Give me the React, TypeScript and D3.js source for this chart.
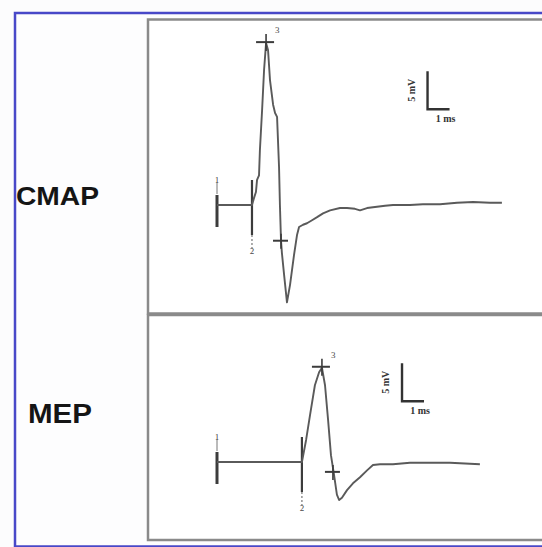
import React from "react";
import * as d3 from "d3";

// Evoked response traces: time in ms (marker 1 = 0), amplitude in mV
const cmapTime = [0, 1.59, 1.68, 1.77, 1.82, 1.91, 1.95, 2.05, 2.14, 2.23, 2.32, 2.41, 2.55, 2.64, 2.73, 2.82, 2.86, 2.91, 2.95, 3.05, 3.18, 3.32, 3.5, 3.64, 3.73, 3.91, 4.09, 4.32, 4.55, 4.82, 5.14, 5.59, 5.91, 6.27, 6.5, 6.82, 7.09, 7.64, 8.0, 8.77, 9.36, 10.14, 10.91, 11.64, 12.41, 12.95];
const cmapVolt = [0, 0, 0.9, 1.7, 3.3, 3.9, 7.2, 12.5, 17.8, 21.3, 20.4, 16.4, 13.2, 12.1, 11.6, 5.0, 0, -4.7, -6.3, -9.2, -12.8, -10.5, -6.6, -3.9, -2.9, -2.6, -2.4, -2.0, -1.6, -1.1, -0.7, -0.4, -0.4, -0.5, -0.7, -0.4, -0.3, -0.1, 0, 0, 0.1, 0.1, 0.3, 0.4, 0.3, 0.3];

const mepTime = [0, 3.86, 4.05, 4.23, 4.45, 4.64, 4.77, 4.91, 5.05, 5.18, 5.32, 5.45, 5.55, 5.68, 5.91, 6.18, 6.5, 6.82, 7.09, 7.41, 8.0, 8.77, 9.36, 10.59, 11.95];
const mepVolt = [0, 0, 2.9, 6.2, 10.1, 11.8, 12.4, 10.1, 5.5, 0.9, -1.7, -4.3, -5.0, -4.7, -3.7, -2.8, -2.0, -1.1, -0.4, -0.3, -0.3, -0.1, -0.1, -0.1, -0.3];

// Marker times: 1 = stimulus, 2 = onset, 3 = peak, 4 = return crossing
const cmapMarkers = [0, 1.59, 2.23, 2.91];
const cmapMarkerVolt = [0, 0, 21.3, -4.7];
const mepMarkers = [0, 3.86, 4.77, 5.27];
const mepMarkerVolt = [0, 0, 12.4, -1.3];

const panelNames = ["CMAP", "MEP"];
const scaleBarMs = 1;
const scaleBarMv = 5;
const scaleBarLabels = ["5 mV", "1 ms"];

const W = 542;
const H = 547;
const traceColor = "#5a5a5a";
const markColor = "#3c3c3c";

type PanelProps = {
  time: number[];
  volt: number[];
  markers: number[];
  markerVolt: number[];
  yDomain: [number, number];
  yRange: [number, number];
  scaleAt: [number, number];
};

const x = d3.scaleLinear().domain([-3, 14.5]).range([151, 536]);

function Panel({ time, volt, markers, markerVolt, yDomain, yRange, scaleAt }: PanelProps) {
  const y = d3.scaleLinear().domain(yDomain).range(yRange);
  const line = d3
    .line<number>()
    .x((_, i) => x(time[i]))
    .y((_, i) => y(volt[i]));
  const base = y(0);
  const [sbT, sbV] = scaleAt;
  const sbX = x(sbT);
  const sbY = y(sbV);
  const sbW = x(sbT + scaleBarMs) - sbX;
  const sbH = y(sbV - scaleBarMv) - sbY;
  const m1 = x(markers[0]);
  const m2 = x(markers[1]);
  const p3x = x(markers[2]);
  const p3y = y(markerVolt[2]);
  const p4x = x(markers[3]);
  const p4y = y(markerVolt[3]);
  const digit = { fontFamily: "Liberation Serif, serif", fontSize: 9, fill: "#4a4a4a" };
  return (
    <g>
      {/* latency bracket between markers 1 and 2 */}
      <line x1={m1} x2={m2} y1={base} y2={base} stroke={markColor} strokeWidth={2.2} />
      <line x1={m1} x2={m1} y1={base - 10} y2={base + 22} stroke={markColor} strokeWidth={3} />
      <line x1={m1} x2={m1} y1={base - 23} y2={base - 11} stroke="#777" strokeWidth={1} />
      <text x={m1} y={base - 22} textAnchor="middle" {...digit}>1</text>
      <line x1={m2} x2={m2} y1={base - 25} y2={base + 30} stroke={markColor} strokeWidth={2.2} />
      <line x1={m2} x2={m2} y1={base + 30} y2={base + 44} stroke="#777" strokeWidth={1.2} strokeDasharray="2 2" />
      <text x={m2} y={base + 49} textAnchor="middle" {...digit}>2</text>
      {/* trace */}
      <path d={line(time) ?? ""} fill="none" stroke={traceColor} strokeWidth={1.9} strokeLinejoin="round" />
      {/* marker 3 at peak */}
      <line x1={p3x - 10} x2={p3x + 8} y1={p3y - 1} y2={p3y - 1} stroke={markColor} strokeWidth={2} />
      <line x1={p3x} x2={p3x} y1={p3y - 9} y2={p3y + 8} stroke={markColor} strokeWidth={1.6} />
      <text x={p3x + 9} y={p3y - 10} {...digit}>3</text>
      {/* marker 4 on return */}
      <line x1={p4x - 8} x2={p4x + 7} y1={p4y} y2={p4y} stroke={markColor} strokeWidth={2} />
      <line x1={p4x} x2={p4x} y1={p4y - 7} y2={p4y + 8} stroke={markColor} strokeWidth={1.6} />
      {/* calibration bar */}
      <path d={`M${sbX},${sbY}V${sbY + sbH}H${sbX + sbW}`} fill="none" stroke="#333" strokeWidth={2.4} />
      <text
        transform={`translate(${sbX - 13},${sbY + sbH / 2}) rotate(-90)`}
        textAnchor="middle"
        fontFamily="Liberation Serif, serif"
        fontWeight="bold"
        fontSize={10}
        fill="#333"
      >
        {scaleBarLabels[0]}
      </text>
      <text
        x={sbX + sbW * 0.82}
        y={sbY + sbH + 13}
        textAnchor="middle"
        fontFamily="Liberation Serif, serif"
        fontWeight="bold"
        fontSize={10}
        fill="#333"
      >
        {scaleBarLabels[1]}
      </text>
    </g>
  );
}

export default function App() {
  return (
    <svg
      width={W}
      height={H}
      viewBox={`0 0 ${W} ${H}`}
      style={{ position: "absolute", left: 0, top: 0, background: "#fcfcfd" }}
    >
      {/* outer frame */}
      <rect x={15} y={13} width={W + 10} height={H - 13.5} fill="#fdfdfe" stroke="#4848c8" strokeWidth={2.5} />
      {/* panel boxes */}
      <rect x={148} y={19.5} width={W} height={294} fill="#fff" stroke="#8a8a8a" strokeWidth={2.5} />
      <rect x={148} y={315} width={W} height={225} fill="#fff" stroke="#8a8a8a" strokeWidth={2.5} />
      <text x={16} y={205} fontFamily="Liberation Sans, Arial, sans-serif" fontWeight="bold" fontSize={25} textLength={83} lengthAdjust="spacingAndGlyphs" fill="#151515">
        {panelNames[0]}
      </text>
      <text x={28} y={423} fontFamily="Liberation Sans, Arial, sans-serif" fontWeight="bold" fontSize={27} textLength={64} lengthAdjust="spacingAndGlyphs" fill="#151515">
        {panelNames[1]}
      </text>
      <Panel
        time={cmapTime}
        volt={cmapVolt}
        markers={cmapMarkers}
        markerVolt={cmapMarkerVolt}
        yDomain={[-14, 22.5]}
        yRange={[311.4, 34]}
        scaleAt={[9.57, 17.6]}
      />
      <Panel
        time={mepTime}
        volt={mepVolt}
        markers={mepMarkers}
        markerVolt={mepMarkerVolt}
        yDomain={[-7, 18]}
        yRange={[515.2, 325.2]}
        scaleAt={[8.41, 13.0]}
      />
    </svg>
  );
}
